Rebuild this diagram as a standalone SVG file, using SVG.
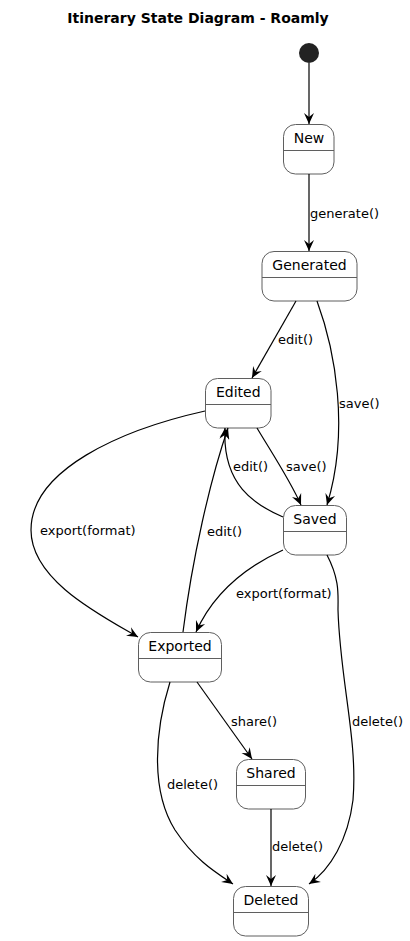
<svg xmlns="http://www.w3.org/2000/svg" width="410" height="941" viewBox="0 0 410 941">
<defs>
<style>
.st rect{fill:#ffffff;stroke:#5f5f5f;stroke-width:1}
.st line{stroke:#5f5f5f;stroke-width:1}
.st text{font-family:"DejaVu Sans",sans-serif;font-size:14px;fill:#000;text-anchor:middle}
.e path,.e line{fill:none;stroke:#000;stroke-width:1.2}
.lbl{font-family:"DejaVu Sans",sans-serif;font-size:13px;fill:#000}
.title{font-family:"DejaVu Sans",sans-serif;font-size:14px;font-weight:bold;fill:#000;text-anchor:middle}
</style>
<marker id="ah" markerUnits="userSpaceOnUse" markerWidth="12" markerHeight="12" viewBox="0 0 12 10" refX="11" refY="5" orient="auto">
<path d="M0,0 L11,5 L0,10 L4,5 Z" fill="#000"/>
</marker>
</defs>
<rect width="410" height="941" fill="#fff"/>
<text class="title" x="198" y="23">Itinerary State Diagram - Roamly</text>

<g id="start"><circle cx="309" cy="53" r="10" fill="#222"/></g>

<g id="New" class="st"><rect x="283.5" y="124.5" width="50.5" height="49.5" rx="12"/><line x1="283.5" y1="150.5" x2="334" y2="150.5"/><text x="309" y="143">New</text></g>
<g id="Generated" class="st"><rect x="262" y="251.5" width="95" height="49.5" rx="12"/><line x1="262" y1="277.5" x2="357" y2="277.5"/><text x="309.5" y="270">Generated</text></g>
<g id="Edited" class="st"><rect x="205.5" y="378.5" width="65.5" height="49.5" rx="12"/><line x1="205.5" y1="404.5" x2="271" y2="404.5"/><text x="238.3" y="397">Edited</text></g>
<g id="Saved" class="st"><rect x="283.5" y="505.5" width="63" height="49.5" rx="12"/><line x1="283.5" y1="531.5" x2="346.5" y2="531.5"/><text x="315" y="524">Saved</text></g>
<g id="Exported" class="st"><rect x="138.5" y="632.5" width="83" height="49.5" rx="12"/><line x1="138.5" y1="658.5" x2="221.5" y2="658.5"/><text x="180" y="651">Exported</text></g>
<g id="Shared" class="st"><rect x="236.5" y="759.5" width="69" height="49.5" rx="12"/><line x1="236.5" y1="785.5" x2="305.5" y2="785.5"/><text x="271" y="778">Shared</text></g>
<g id="Deleted" class="st"><rect x="233.5" y="886.5" width="75" height="49.5" rx="12"/><line x1="233.5" y1="912.5" x2="308.5" y2="912.5"/><text x="271" y="905">Deleted</text></g>

<g id="connectors" class="e">
<path d="M309,63 L309,124" marker-end="url(#ah)"/>
<path d="M309,174 L309,251" marker-end="url(#ah)"/>
<path d="M296,301 L252,378" marker-end="url(#ah)"/>
<path d="M317,301 C335,350 350,430 327,505" marker-end="url(#ah)"/>
<path d="M257,428 C270,450 290,480 301,505" marker-end="url(#ah)"/>
<path d="M283,517 C255,505 222,485 225,428" marker-end="url(#ah)"/>
<path d="M183,632 C192,560 210,480 228,428" marker-end="url(#ah)"/>
<path d="M205,411 C120,430 31,470 31,530 C31,580 100,615 138,637" marker-end="url(#ah)"/>
<path d="M283,550 C250,565 215,590 196,632" marker-end="url(#ah)"/>
<path d="M327,555 C340,580 338,595 338,610 C340,680 358,740 353,800 C348,840 330,870 309,884" marker-end="url(#ah)"/>
<path d="M197,682 L252,759" marker-end="url(#ah)"/>
<path d="M170,682 C155,730 150,790 175,830 C195,860 215,872 233,884" marker-end="url(#ah)"/>
<path d="M271,809 L271,886" marker-end="url(#ah)"/>
</g>

<g id="labels">
<text class="lbl" x="310" y="218">generate()</text>
<text class="lbl" x="278" y="344">edit()</text>
<text class="lbl" x="339" y="408">save()</text>
<text class="lbl" x="286" y="471">save()</text>
<text class="lbl" x="233" y="471">edit()</text>
<text class="lbl" x="207" y="536">edit()</text>
<text class="lbl" x="40" y="535">export(format)</text>
<text class="lbl" x="236" y="598">export(format)</text>
<text class="lbl" x="352" y="726">delete()</text>
<text class="lbl" x="231" y="726">share()</text>
<text class="lbl" x="167" y="789">delete()</text>
<text class="lbl" x="272" y="851">delete()</text>
</g>
</svg>
